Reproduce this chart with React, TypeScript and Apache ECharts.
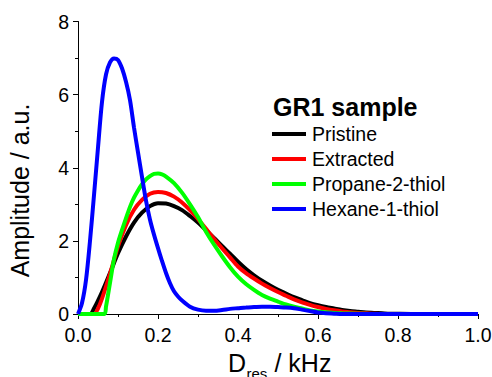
import React, { useEffect, useRef } from "react";
import * as echarts from "echarts";

const seriesNames = ["Pristine", "Extracted", "Propane-2-thiol", "Hexane-1-thiol"];
const seriesColors = ["#000000", "#ff0000", "#00ff00", "#0000ff"];

const pristineX = [0, 0.03, 0.04, 0.06, 0.08, 0.1, 0.12, 0.14, 0.16, 0.18, 0.2, 0.22, 0.24, 0.26, 0.28, 0.3, 0.32, 0.34, 0.36, 0.38, 0.4, 0.42, 0.44, 0.46, 0.48, 0.5, 0.52, 0.54, 0.56, 0.58, 0.6, 0.62, 0.64, 0.66, 0.68, 0.7, 0.72, 0.74, 0.76, 0.78, 0.8, 0.84, 1.0];
const pristineY = [0, 0, 0.15, 0.6, 1.12, 1.66, 2.12, 2.5, 2.77, 2.95, 3.03, 3.02, 2.95, 2.84, 2.68, 2.5, 2.29, 2.08, 1.86, 1.65, 1.43, 1.23, 1.06, 0.91, 0.78, 0.66, 0.56, 0.46, 0.38, 0.3, 0.24, 0.19, 0.15, 0.11, 0.08, 0.06, 0.04, 0.03, 0.02, 0.01, 0.005, 0, 0];

const extractedX = [0, 0.04, 0.05, 0.06, 0.08, 0.1, 0.12, 0.14, 0.16, 0.18, 0.2, 0.22, 0.24, 0.26, 0.28, 0.3, 0.32, 0.34, 0.36, 0.38, 0.4, 0.42, 0.44, 0.46, 0.48, 0.5, 0.52, 0.54, 0.56, 0.58, 0.6, 0.62, 0.64, 0.66, 0.68, 0.7, 0.72, 0.74, 0.78, 1.0];
const extractedY = [0, 0, 0.15, 0.42, 1.1, 1.85, 2.43, 2.85, 3.12, 3.29, 3.34, 3.31, 3.21, 3.05, 2.84, 2.6, 2.33, 2.06, 1.8, 1.55, 1.3, 1.12, 0.97, 0.83, 0.71, 0.6, 0.5, 0.4, 0.32, 0.25, 0.19, 0.14, 0.1, 0.07, 0.05, 0.03, 0.02, 0.01, 0, 0];

const propaneX = [0, 0.066, 0.07, 0.08, 0.09, 0.1, 0.11, 0.12, 0.13, 0.14, 0.15, 0.16, 0.17, 0.18, 0.19, 0.2, 0.21, 0.22, 0.24, 0.26, 0.28, 0.3, 0.32, 0.34, 0.36, 0.38, 0.4, 0.42, 0.44, 0.46, 0.48, 0.5, 0.52, 0.54, 0.56, 0.58, 0.6, 0.62, 0.64, 0.66, 0.7, 0.74, 1.0];
const propaneY = [0, 0, 0.2, 0.85, 1.5, 1.95, 2.3, 2.62, 2.93, 3.18, 3.38, 3.55, 3.68, 3.77, 3.83, 3.84, 3.82, 3.76, 3.58, 3.32, 3.0, 2.65, 2.25, 1.9, 1.58, 1.28, 1.02, 0.82, 0.66, 0.52, 0.42, 0.34, 0.26, 0.2, 0.15, 0.1, 0.07, 0.05, 0.03, 0.02, 0.01, 0, 0];

const hexaneX = [0, 0.01, 0.02, 0.03, 0.04, 0.05, 0.06, 0.07, 0.08, 0.09, 0.1, 0.11, 0.12, 0.13, 0.14, 0.15, 0.16, 0.17, 0.18, 0.19, 0.2, 0.21, 0.22, 0.23, 0.24, 0.25, 0.26, 0.28, 0.3, 0.32, 0.34, 0.36, 0.38, 0.4, 0.42, 0.44, 0.46, 0.48, 0.5, 0.52, 0.54, 0.56, 0.58, 0.6, 0.62, 0.64, 0.66, 1.0];
const hexaneY = [0, 0.3, 0.93, 2.0, 3.25, 4.55, 5.8, 6.55, 6.88, 6.99, 6.95, 6.72, 6.35, 5.85, 5.1, 4.42, 3.75, 3.1, 2.58, 2.17, 1.8, 1.45, 1.12, 0.84, 0.62, 0.48, 0.37, 0.2, 0.12, 0.09, 0.09, 0.11, 0.14, 0.16, 0.18, 0.19, 0.2, 0.2, 0.19, 0.18, 0.16, 0.12, 0.08, 0.04, 0.02, 0.01, 0, 0];

const xTicks = { min: 0, max: 1, interval: 0.2 };
const yTicks = { min: 0, max: 8, interval: 2 };

const FONT = "'Liberation Sans', Arial, sans-serif";

function pairs(xs: number[], ys: number[]) {
  return xs.map((x, i) => [x, ys[i]]);
}

export default function App() {
  const ref = useRef<HTMLDivElement>(null);
  useEffect(() => {
    if (!ref.current) return;
    const chart = echarts.init(ref.current, undefined, { renderer: "svg" });
    const datasets = [
      pairs(pristineX, pristineY),
      pairs(extractedX, extractedY),
      pairs(propaneX, propaneY),
      pairs(hexaneX, hexaneY),
    ];
    const axisCommon = {
      axisLine: { show: true, lineStyle: { color: "#000", width: 1 } },
      axisTick: { show: true, inside: false, length: 5, lineStyle: { color: "#000", width: 1 } },
      minorTick: { show: true, splitNumber: 2, length: 3, lineStyle: { color: "#000", width: 1 } },
      splitLine: { show: false },
      minorSplitLine: { show: false },
    };
    const nameY = 362.5;
    const xNameLeft = 228;
    chart.setOption({
      animation: false,
      backgroundColor: "#ffffff",
      grid: { left: 78, right: 14, top: 21.5, bottom: 63, outerBoundsMode: "none" },
      title: {
        text: "GR1 sample",
        left: 273,
        top: 94,
        padding: 0,
        textStyle: { fontSize: 25, fontWeight: "bold", color: "#000", fontFamily: FONT },
      },
      legend: {
        orient: "vertical",
        left: 272,
        top: 124,
        padding: 0,
        icon: "rect",
        itemWidth: 34,
        itemHeight: 4,
        itemGap: 5,
        textStyle: { fontSize: 19.5, color: "#000", fontFamily: FONT, padding: [0, 0, 0, 1] },
        data: seriesNames,
      },
      xAxis: {
        type: "value",
        min: xTicks.min,
        max: xTicks.max,
        interval: xTicks.interval,
        ...axisCommon,
        axisLabel: {
          margin: 11,
          fontSize: 19.5,
          color: "#000",
          fontFamily: FONT,
          formatter: (v: number) => v.toFixed(1),
        },
      },
      yAxis: {
        type: "value",
        min: yTicks.min,
        max: yTicks.max,
        interval: yTicks.interval,
        ...axisCommon,
        axisLabel: { margin: 9, fontSize: 19.5, color: "#000", fontFamily: FONT },
      },
      graphic: [
        {
          type: "text",
          x: 20,
          y: 190.5,
          rotation: Math.PI / 2,
          style: {
            text: "Amplitude / a.u.",
            fontSize: 25,
            fontFamily: FONT,
            fill: "#000",
            align: "center",
            verticalAlign: "middle",
          },
        },
        {
          type: "text",
          x: xNameLeft,
          y: nameY,
          style: { text: "D", fontSize: 25, fontFamily: FONT, fill: "#000", align: "left", verticalAlign: "middle" },
        },
        {
          type: "text",
          x: xNameLeft + 18.5,
          y: nameY + 10.5,
          style: { text: "res", fontSize: 15, fontFamily: FONT, fill: "#000", align: "left", verticalAlign: "middle" },
        },
        {
          type: "text",
          x: xNameLeft + 39.5,
          y: nameY,
          style: { text: " / kHz", fontSize: 25, fontFamily: FONT, fill: "#000", align: "left", verticalAlign: "middle" },
        },
      ],
      series: datasets.map((d, i) => ({
        name: seriesNames[i],
        type: "line",
        data: d,
        symbol: "none",
        smooth: 0.3,
        color: seriesColors[i],
        lineStyle: { color: seriesColors[i], width: 4 },
        z: 2 + i,
      })),
    });
    return () => chart.dispose();
  }, []);
  return (
    <div
      ref={ref}
      style={{ position: "fixed", left: 0, top: 0, width: 492, height: 377, background: "#fff" }}
    />
  );
}
